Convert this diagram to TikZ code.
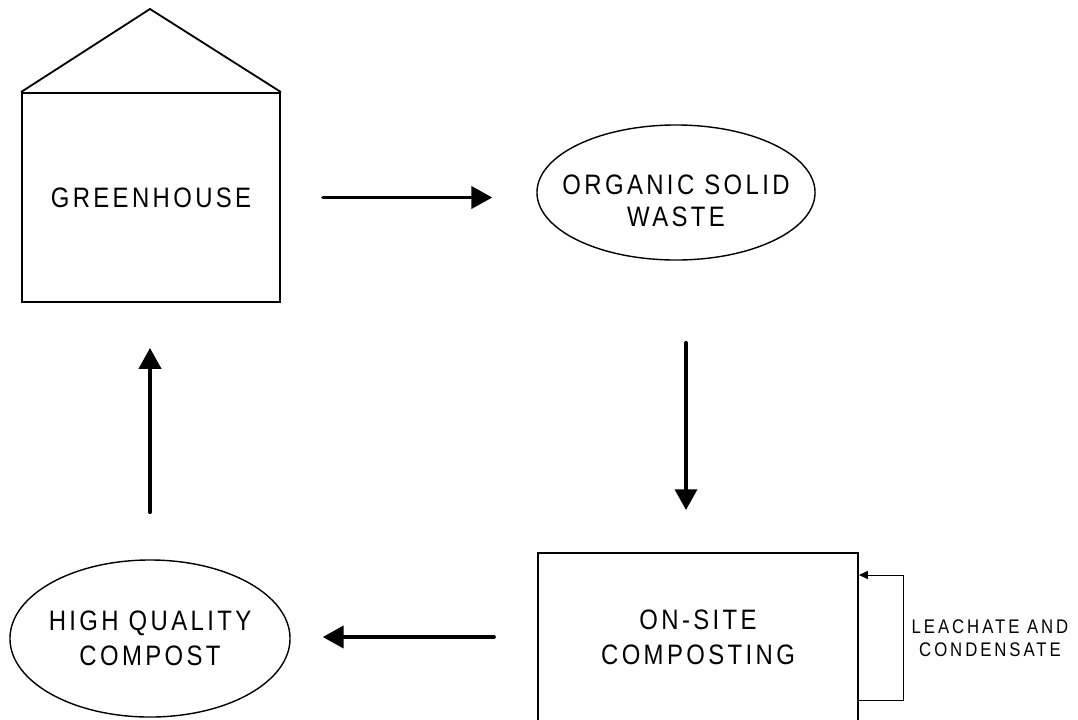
\documentclass[tikz,border=0pt]{standalone}
\usepackage{fontspec}
\setmainfont{Liberation Sans}
\newfontfamily\labelfont[LetterSpace=12,FakeStretch=0.85]{Liberation Sans}
\newfontfamily\notefont[LetterSpace=15,FakeStretch=0.85]{Liberation Sans}
\usetikzlibrary{arrows.meta,positioning,shapes.geometric}

\begin{document}
\begin{tikzpicture}[
        x=0.025cm, y=-0.025cm,
        box/.style={draw, line width=1.3pt, inner sep=0pt, line join=miter},
        blob/.style={draw, ellipse, line width=1pt, inner sep=0pt},
        flow/.style={line width=2.6pt, line cap=round,
            -{Triangle[length=0.52cm, width=0.55cm]}},
        leach/.style={line width=0.6pt, -{Triangle[length=0.22cm, width=0.2cm]}},
        big/.style={font=\labelfont\fontsize{20}{25}\selectfont, align=center},
        note/.style={font=\notefont\fontsize{14}{16.3}\selectfont, align=center},
    ]
    \useasboundingbox (0,0) rectangle (1078,719);

    % the four stations of the loop
    \node[box, big, minimum width=6.45cm, minimum height=5.225cm]
        (gh) at (151,197.5) {GREENHOUSE};
    \coordinate (apex) at (150,9);
    \draw[box] (gh.north west) -- (apex) -- (gh.north east);

    \node[blob, minimum width=6.95cm, minimum height=3.375cm,
        label={[big, font=\labelfont\fontsize{20}{23}\selectfont,
            yshift=-0.2cm]center:ORGANIC SOLID\\WASTE}]
        (waste) at (676,192.5) {};
    \node[box, big, minimum width=8cm, minimum height=4.2cm]
        (composting) at (698,637) {ON-SITE\\COMPOSTING};
    \node[blob, minimum width=7cm, minimum height=3.925cm,
        label={[big]center:HIGH QUALITY\\COMPOST}]
        (compost) at (150,638.5) {};

    % flows
    \coordinate (dcol) at (686,0);
    \draw[flow, shorten <=1.05cm, shorten >=1.1cm]
        (gh.east) -- (gh.east -| waste.west);
    \draw[flow, shorten <=2.05cm, shorten >=1.05cm]
        (waste.south -| dcol) -- (composting.north -| dcol);
    \draw[flow, shorten <=1.075cm, shorten >=0.8cm]
        (composting.west) -- (compost.east |- composting.west);
    \draw[flow, shorten <=1.175cm, shorten >=1.125cm]
        (compost.north) -- (gh.south -| compost.north);

    % leachate return
    \coordinate (lbot) at (903,700);
    \coordinate (ltop) at (903,575);
    \draw[leach] (composting.east |- lbot) -- (lbot) -- (ltop)
        -- (composting.east |- ltop);
    \node[note] (leachate) at (990,638.5) {LEACHATE AND\\CONDENSATE};
\end{tikzpicture}
\end{document}
